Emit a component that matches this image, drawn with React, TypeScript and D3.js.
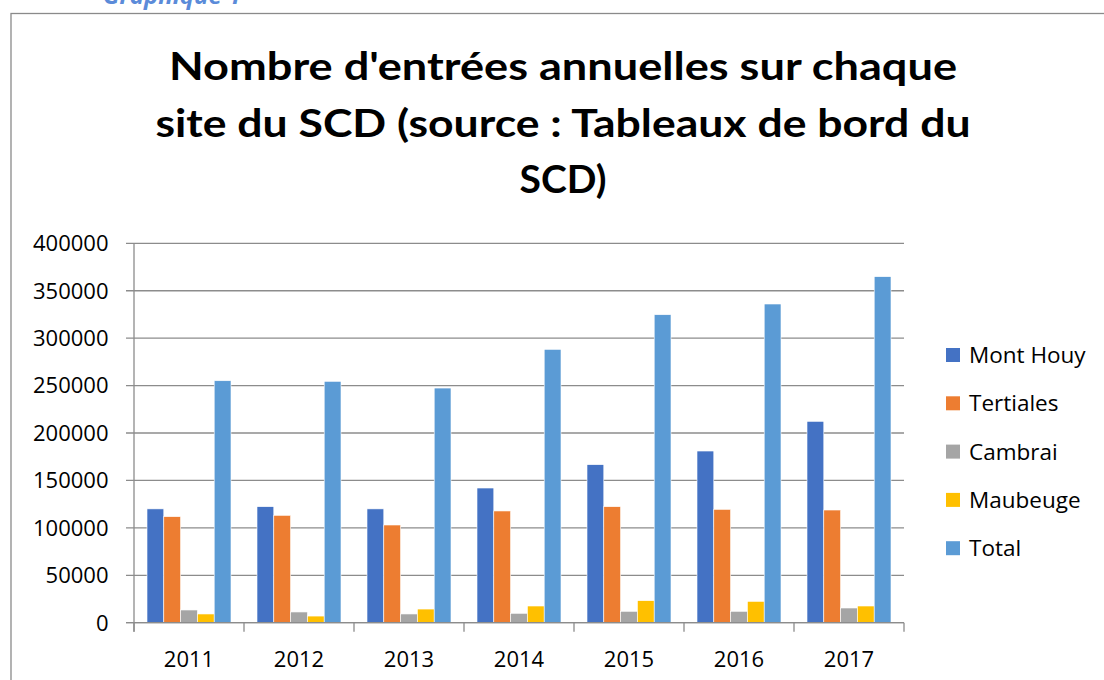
import React from "react";
import * as d3 from "d3";

const years = ["2011", "2012", "2013", "2014", "2015", "2016", "2017"];
const seriesNames = ["Mont Houy", "Tertiales", "Cambrai", "Maubeuge", "Total"];
const montHouy = [120000, 122300, 120000, 142000, 166600, 181000, 212300];
const tertiales = [111800, 113200, 103000, 117800, 122300, 119500, 118800];
const cambrai = [13400, 11300, 9200, 9900, 12000, 12000, 15500];
const maubeuge = [9200, 7000, 14400, 17600, 23200, 22500, 17600];
const total = [255100, 254500, 247400, 288200, 324700, 336000, 364800];
const yTicks = [0, 50000, 100000, 150000, 200000, 250000, 300000, 350000, 400000];
const colors = ["#4472C4", "#ED7D31", "#A5A5A5", "#FFC000", "#5B9BD5"];
const titleLines = ["Nombre d'entrées annuelles sur chaque", "site du SCD (source : Tableaux de bord du", "SCD)"];

const seriesValues = [montHouy, tertiales, cambrai, maubeuge, total];

export default function App() {
  const W = 1104, H = 680;
  const left = 134, right = 904, top = 243.3, bottom = 622.7;
  const x0 = d3.scaleBand().domain(years).range([left, right]).padding(0);
  const x1 = d3.scaleBand().domain(seriesNames).range([0, x0.bandwidth()]).paddingInner(0).paddingOuter(0.774);
  const y = d3.scaleLinear().domain([0, 400000]).range([bottom, top]);
  const font = "'Open Sans', 'Liberation Sans', sans-serif";
  const gridColor = "#8c8c8c";
  const titleWidths = [788, 815, 87];
  const titleBase = [80, 136.7, 193.4];
  const legendY = [355, 403.3, 451.6, 499.9, 548.2];

  return (
    <svg width={W} height={H} style={{ position: "absolute", left: 0, top: 0, display: "block", background: "#fff" }}>
      <text x={103} y={4} fontFamily={font} fontStyle="italic" fontWeight="bold" fontSize={24} fill="#5B8BD9">
        Graphique 1
      </text>
      <rect x={11} y={13.5} width={1200} height={1000} fill="#fff" stroke="#8a8a8a" strokeWidth={1.3} />
      {titleLines.map((t, i) => (
        <text
          key={i}
          x={563}
          y={titleBase[i]}
          textAnchor="middle"
          fontFamily="Lato, 'Open Sans', sans-serif"
          fontWeight="bold"
          fontSize={39}
          textLength={titleWidths[i]}
          lengthAdjust="spacingAndGlyphs"
          fill="#000"
        >
          {t}
        </text>
      ))}
      {/* gridlines */}
      {yTicks.map((t) => (
        <g key={t}>
          <line x1={left - 8} x2={right} y1={y(t)} y2={y(t)} stroke={gridColor} strokeWidth={1.3} />
          <text x={108.5} y={y(t)} dy="0.36em" textAnchor="end" fontFamily={font} fontSize={22} fill="#000">
            {t}
          </text>
        </g>
      ))}
      {/* vertical axis */}
      <line x1={left} x2={left} y1={top} y2={bottom + 9} stroke={gridColor} strokeWidth={1.3} />
      {/* bars */}
      {years.map((yr, i) => (
        <g key={yr} transform={`translate(${x0(yr)},0)`}>
          {seriesNames.map((s, j) => {
            const v = seriesValues[j][i];
            return (
              <rect
                key={s}
                x={x1(s)}
                y={y(v)}
                width={x1.bandwidth()}
                height={bottom - y(v)}
                fill={colors[j]}
                stroke="#ffffff"
                strokeWidth={0.6}
              />
            );
          })}
        </g>
      ))}
      {/* baseline */}
      <line x1={left - 8} x2={right} y1={bottom} y2={bottom} stroke={gridColor} strokeWidth={1.3} />
      {/* category ticks */}
      {d3.range(years.length + 1).map((k) => {
        const xx = left + k * x0.step();
        return <line key={k} x1={xx} x2={xx} y1={bottom} y2={bottom + 9} stroke={gridColor} strokeWidth={1.3} />;
      })}
      {years.map((yr) => (
        <text key={yr} x={(x0(yr) as number) + x0.bandwidth() / 2} y={667} textAnchor="middle" fontFamily={font} fontSize={22} fill="#000">
          {yr}
        </text>
      ))}
      {/* legend */}
      {seriesNames.map((s, j) => (
        <g key={s}>
          <rect x={946} y={legendY[j] - 7} width={14} height={14} fill={colors[j]} />
          <text x={969} y={legendY[j]} dy="0.36em" fontFamily={font} fontSize={22.5} fill="#000">
            {s}
          </text>
        </g>
      ))}
    </svg>
  );
}
